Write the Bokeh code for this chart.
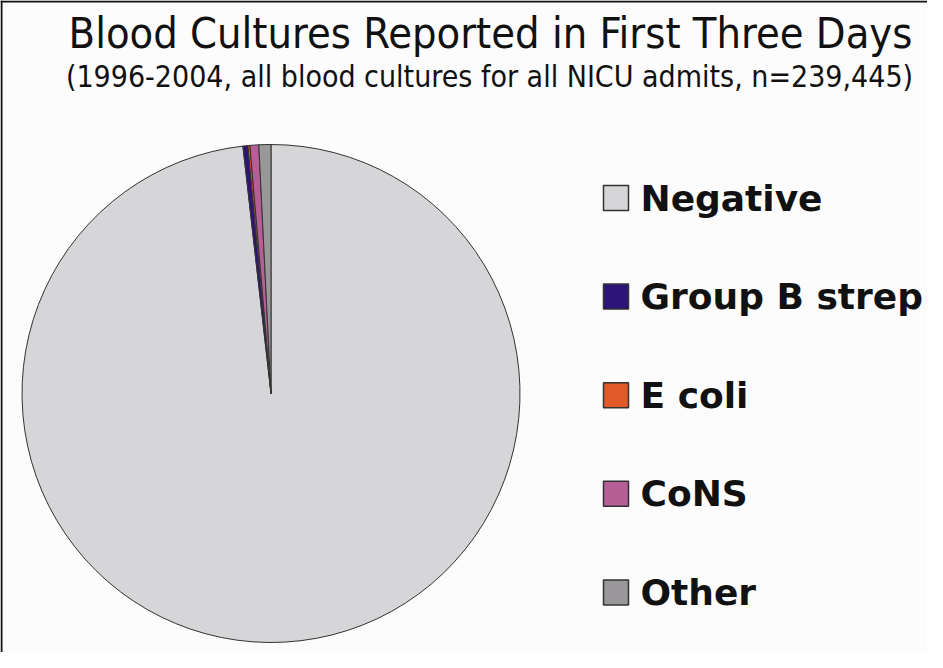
import math
from bokeh.plotting import figure
from bokeh.models import ColumnDataSource, Range1d, Label, Span
from bokeh.core.properties import value
from bokeh.embed import file_html
from bokeh.resources import INLINE

# Data (percent of all blood cultures)
categories = ["Negative", "Group B strep", "E coli", "CoNS", "Other"]
percents = [98.2, 0.32, 0.13, 0.57, 0.78]
colors = ["#d6d5d7", "#2d1478", "#e05a28", "#b65e96", "#99979a"]

title_text = "Blood Cultures Reported in First Three Days"
subtitle_text = "(1996-2004, all blood cultures for all NICU admits, n=239,445)"

W, H = 927, 652
p = figure(width=W, height=H, x_range=Range1d(0, W), y_range=Range1d(0, H),
           output_backend="svg", toolbar_location=None, min_border=0)
p.axis.visible = False
p.grid.visible = False
p.background_fill_color = "#fcfcfc"
p.border_fill_color = "#fcfcfc"
p.outline_line_color = None

total = sum(percents)
starts, ends = [], []
cum = 0.0
for v in percents:
    starts.append(math.pi / 2 - 2 * math.pi * cum / total)
    cum += v
    ends.append(math.pi / 2 - 2 * math.pi * cum / total)

src = ColumnDataSource(dict(cat=categories, val=percents, color=colors,
                            start=starts, end=ends))
cx, cy, r = 270.5, 259, 249
p.wedge(x=cx, y=cy, radius=r, start_angle="start", end_angle="end",
        direction="clock", fill_color="color", line_color="#333333",
        line_width=1, source=src)

# Legend
leg_y = [660 - (205.5 + 98.6 * i) for i in range(len(categories))]
leg = ColumnDataSource(dict(cat=categories, color=colors, y=leg_y,
                            x=[623.5 - 8] * len(categories),
                            tx=[648 - 8] * len(categories)))
p.rect(x="x", y="y", width=25, height=25, fill_color="color",
       line_color="#333333", line_width=1.5, source=leg)
p.text(x="tx", y="y", text="cat", text_font=value("DejaVu Sans"),
       text_font_style="bold", text_font_size="36px", text_color="#111111",
       text_baseline="middle", text_align="left", source=leg)

# Titles
p.add_layout(Label(x=490, y=660 - 40, text=title_text, text_align="center",
                   text_baseline="middle", text_font="DejaVu Sans Condensed",
                   text_font_size="43px", text_color="#111111"))
p.add_layout(Label(x=489, y=660 - 84, text=subtitle_text, text_align="center",
                   text_baseline="middle", text_font="DejaVu Sans Condensed",
                   text_font_size="30px", text_color="#111111"))

# Frame border (top and left only; right/bottom are cut off in the original)
p.add_layout(Span(location=H - 1, dimension="width", line_color="#111111", line_width=2))
p.add_layout(Span(location=1, dimension="height", line_color="#111111", line_width=2))

open("out.html", "w").write(file_html(p, INLINE))
